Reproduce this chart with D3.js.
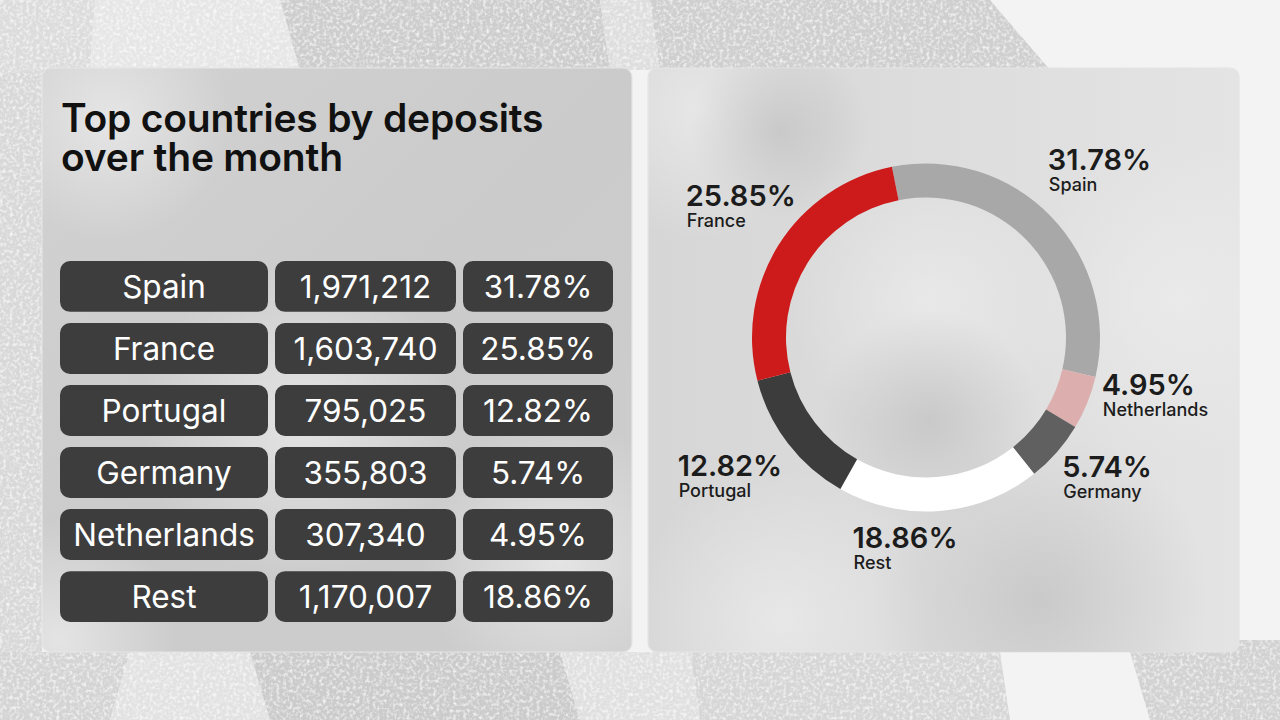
<!DOCTYPE html>
<html>
<head>
<meta charset="utf-8">
<script src="https://cdn.jsdelivr.net/npm/d3@7"></script>
<style>
  html, body { margin: 0; padding: 0; background: #efefef; }
  svg { display: block; font-family: Inter, "Noto Sans", sans-serif; }
</style>
</head>
<body>
<svg id="chart" width="1280" height="720"></svg>
<script>
// ---------------- DATA ----------------
const titleLines = ["Top countries by deposits", "over the month"];
const countries = ["Spain", "France", "Portugal", "Germany", "Netherlands", "Rest"];
const deposits  = [1971212, 1603740, 795025, 355803, 307340, 1170007];
const shares    = [31.78, 25.85, 12.82, 5.74, 4.95, 18.86];
// order of slices around the ring (clockwise)
const donutOrder = ["Spain", "Netherlands", "Germany", "Rest", "Portugal", "France"];
const sliceColors = ["#a8a8a8", "#dcaeae", "#606060", "#ffffff", "#3c3c3c", "#cd1a1a"];

// ---------------- LAYOUT ----------------
const W = 1280, H = 720;
const panels = [{x: 42, y: 68, w: 590, h: 584}, {x: 648, y: 68, w: 591, h: 584}];
const colEdges = [[60, 268], [275, 456], [463, 613]];
const rowRange = [261, 622];
const donut = {cx: 926, cy: 337.5, rOuter: 174, rInner: 140, start: -11.3};
// label placement: angular tweak (deg) and distance of label block centre
const labelLayout = {
  Spain: {da: 0.4, dist: 240}, Netherlands: {da: -7.5, dist: 236},
  Germany: {da: -3.2, dist: 230}, Rest: {da: 10.1, dist: 213.5},
  Portugal: {da: 1.9, dist: 241}, France: {da: 2.8, dist: 226}
};

const svg = d3.select("#chart");
const defs = svg.append("defs");

// ---------- background texture ----------
const noise = defs.append("filter").attr("id", "rock").attr("x", 0).attr("y", 0).attr("width", "100%").attr("height", "100%");
noise.append("feTurbulence").attr("type", "fractalNoise").attr("baseFrequency", 0.3).attr("numOctaves", 2).attr("seed", 4).attr("result", "n");
noise.append("feColorMatrix").attr("in", "n").attr("type", "matrix")
  .attr("values", "0 0 0 0 1  0 0 0 0 1  0 0 0 0 1  0 0 0 -1.8 1.0").attr("result", "spots");
noise.append("feComposite").attr("in", "spots").attr("in2", "SourceGraphic").attr("operator", "in").attr("result", "sp");
noise.append("feMerge").call(m => { m.append("feMergeNode").attr("in", "SourceGraphic"); m.append("feMergeNode").attr("in", "sp"); });

svg.append("rect").attr("width", W).attr("height", H).attr("fill", "#f3f3f3");
const rocks = [
  {c: "#dcdcdc", p: [[0,0],[95,0],[90,70],[0,75]]},
  {c: "#e6e6e6", p: [[95,0],[280,0],[300,70],[90,70]]},
  {c: "#cdcdcd", p: [[280,0],[600,0],[610,70],[300,70]]},
  {c: "#dedede", p: [[600,0],[650,0],[660,70],[610,70]]},
  {c: "#cfcfcf", p: [[650,0],[990,0],[1050,70],[660,70]]},
  {c: "#d8d8d8", p: [[0,75],[42,70],[42,655],[0,660]]},
  {c: "#d4d4d4", p: [[0,652],[130,652],[110,720],[0,720]]},
  {c: "#e2e2e2", p: [[130,652],[250,652],[270,720],[110,720]]},
  {c: "#cbcbcb", p: [[250,652],[560,652],[580,720],[270,720]]},
  {c: "#e0e0e0", p: [[560,652],[690,652],[700,720],[580,720]]},
  {c: "#d6d6d6", p: [[690,652],[1000,652],[1010,720],[700,720]]},
  {c: "#d2d2d2", p: [[1130,652],[1240,640],[1280,640],[1280,720],[1150,720]]}
];
svg.append("g").attr("filter", "url(#rock)")
  .selectAll("path").data(rocks).join("path")
  .attr("d", d => d3.line()(d.p) + "Z").attr("fill", d => d.c);

// ---------- panels ----------
const g1 = defs.append("linearGradient").attr("id", "pL").attr("x1", 0).attr("y1", 0).attr("x2", 1).attr("y2", 1);
g1.append("stop").attr("offset", 0).attr("stop-color", "#d2d2d2");
g1.append("stop").attr("offset", 0.5).attr("stop-color", "#cbcbcb");
g1.append("stop").attr("offset", 1).attr("stop-color", "#cdcdcd");
const g2 = defs.append("linearGradient").attr("id", "pR").attr("x1", 0).attr("y1", 0).attr("x2", 1).attr("y2", 0);
g2.append("stop").attr("offset", 0).attr("stop-color", "#d6d6d6");
g2.append("stop").attr("offset", 1).attr("stop-color", "#e4e4e4");
const blob = defs.append("radialGradient").attr("id", "blob");
blob.append("stop").attr("offset", 0).attr("stop-color", "#ececec").attr("stop-opacity", 0.75);
blob.append("stop").attr("offset", 1).attr("stop-color", "#ececec").attr("stop-opacity", 0);
const blobD = defs.append("radialGradient").attr("id", "blobD");
blobD.append("stop").attr("offset", 0).attr("stop-color", "#b8b8b8").attr("stop-opacity", 0.55);
blobD.append("stop").attr("offset", 1).attr("stop-color", "#b8b8b8").attr("stop-opacity", 0);

panels.forEach((p, i) => {
  defs.append("clipPath").attr("id", "clip" + i).append("rect")
    .attr("x", p.x).attr("y", p.y).attr("width", p.w).attr("height", p.h).attr("rx", 9);
  svg.append("rect").attr("x", p.x).attr("y", p.y).attr("width", p.w).attr("height", p.h).attr("rx", 9)
    .attr("fill", i === 0 ? "url(#pL)" : "url(#pR)")
    .attr("stroke", "#e4e4e4").attr("stroke-width", 1.2);
});
const blobs = [
  {clip: 0, x: 110, y: 120, r: 120, f: "blob"}, {clip: 0, x: 300, y: 420, r: 160, f: "blob"},
  {clip: 0, x: 560, y: 560, r: 140, f: "blob"}, {clip: 0, x: 60, y: 640, r: 120, f: "blob"},
  {clip: 1, x: 700, y: 110, r: 130, f: "blob"}, {clip: 1, x: 1180, y: 300, r: 160, f: "blob"},
  {clip: 1, x: 930, y: 300, r: 140, f: "blob"}, {clip: 1, x: 780, y: 620, r: 150, f: "blob"},
  {clip: 1, x: 1040, y: 600, r: 170, f: "blobD"}, {clip: 1, x: 780, y: 130, r: 90, f: "blobD"},
  {clip: 1, x: 930, y: 420, r: 110, f: "blobD"}
];
svg.append("g").selectAll("circle").data(blobs).join("circle")
  .attr("clip-path", d => `url(#clip${d.clip})`)
  .attr("cx", d => d.x).attr("cy", d => d.y).attr("r", d => d.r).attr("fill", d => `url(#${d.f})`);

// ---------- title ----------
svg.append("text").attr("x", 61).attr("y", 132)
  .attr("font-size", 39).attr("font-weight", 600).attr("fill", "#111")
  .attr("letter-spacing", -0.2)
  .selectAll("tspan").data(titleLines).join("tspan")
  .attr("x", 61).attr("dy", (d, i) => i ? 38.5 : 0).text(d => d);

// ---------- table ----------
const fmt = d3.format(",");
const y = d3.scaleBand().domain(countries).range(rowRange).paddingInner(0.18).paddingOuter(0);
const rows = countries.map((c, i) => [c, fmt(deposits[i]), shares[i].toFixed(2) + "%"]);
const rowG = svg.append("g").selectAll("g").data(rows).join("g")
  .attr("transform", (d, i) => `translate(0,${y(countries[i])})`);
rowG.selectAll("rect").data(d => d.map((t, j) => ({t, j}))).join("rect")
  .attr("x", d => colEdges[d.j][0]).attr("width", d => colEdges[d.j][1] - colEdges[d.j][0])
  .attr("y", 0).attr("height", y.bandwidth()).attr("rx", 10).attr("fill", "#3d3d3d");
rowG.selectAll("text").data(d => d.map((t, j) => ({t, j}))).join("text")
  .attr("x", d => (colEdges[d.j][0] + colEdges[d.j][1]) / 2)
  .attr("y", y.bandwidth() / 2 + 11.5)
  .attr("text-anchor", "middle").attr("font-size", 31.5).attr("font-weight", 400)
  .attr("fill", "#fff").text(d => d.t);

// ---------- donut ----------
const rad = Math.PI / 180;
const ordered = donutOrder.map((c, i) => {
  const k = countries.indexOf(c);
  return {name: c, value: deposits[k], share: shares[k], color: sliceColors[i]};
});
const pie = d3.pie().value(d => d.value).sort(null)
  .startAngle(donut.start * rad).endAngle(donut.start * rad + 2 * Math.PI);
const arcs = pie(ordered);
const arc = d3.arc().innerRadius(donut.rInner).outerRadius(donut.rOuter);
const dg = svg.append("g").attr("transform", `translate(${donut.cx},${donut.cy})`);
dg.selectAll("path").data(arcs).join("path").attr("d", arc).attr("fill", d => d.data.color);

// labels
const lg = dg.selectAll("g.lab").data(arcs).join("g").attr("class", "lab");
lg.each(function(d) {
  const g = d3.select(this);
  const t1 = g.append("text").attr("font-size", 29).attr("font-weight", 600).attr("fill", "#1c1c1c")
    .text(d.data.share.toFixed(2) + "%");
  const t2 = g.append("text").attr("font-size", 18).attr("font-weight", 500).attr("fill", "#1c1c1c")
    .text(d.data.name);
  const w = Math.max(t1.node().getComputedTextLength(), t2.node().getComputedTextLength());
  const L = labelLayout[d.data.name];
  const a = (d.startAngle + d.endAngle) / 2 + L.da * rad;
  const cx = Math.sin(a) * L.dist, cy = -Math.cos(a) * L.dist;
  const h = 46;
  const left = cx - w / 2, top = cy - h / 2;
  t1.attr("x", left).attr("y", top + 21);
  t2.attr("x", left + 1).attr("y", top + 42);
});
</script>
</body>
</html>
